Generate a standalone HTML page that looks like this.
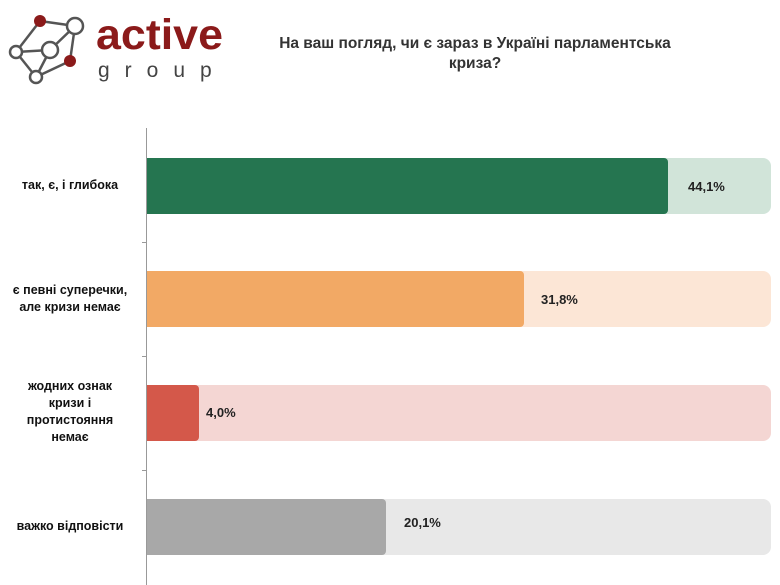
<!DOCTYPE html><html><head><meta charset="utf-8"><style>
body{margin:0;width:780px;height:585px;background:#fff;position:relative;overflow:hidden;font-family:"Liberation Sans",sans-serif}
.a{position:absolute}
.lab{position:absolute;left:0;width:140px;text-align:center;font-size:12.5px;font-weight:bold;color:#111;line-height:17px}
.bg{position:absolute;left:147px;width:624px;height:56px;border-radius:0 8px 8px 0}
.fg{position:absolute;left:147px;height:56px;border-radius:0 4px 4px 0}
.v{position:absolute;font-size:13px;font-weight:bold;color:#222}
</style></head><body>
<svg class="a" style="left:0;top:0" width="240" height="90">
<g stroke="#555" stroke-width="2.5" fill="none">
<line x1="40" y1="21" x2="75" y2="26"/><line x1="40" y1="21" x2="16" y2="52"/><line x1="75" y1="26" x2="50" y2="50"/><line x1="75" y1="26" x2="70" y2="61"/><line x1="16" y1="52" x2="36" y2="77"/><line x1="50" y1="50" x2="16" y2="52"/><line x1="50" y1="50" x2="36" y2="77"/><line x1="70" y1="61" x2="36" y2="77"/>
</g>
<circle cx="40" cy="21" r="6" fill="#8b1a1a"/><circle cx="75" cy="26" r="8" fill="#fff" stroke="#555" stroke-width="2.5"/>
<circle cx="16" cy="52" r="6" fill="#fff" stroke="#555" stroke-width="2.5"/><circle cx="50" cy="50" r="8" fill="#fff" stroke="#555" stroke-width="2.5"/>
<circle cx="70" cy="61" r="6" fill="#8b1a1a"/><circle cx="36" cy="77" r="6" fill="#fff" stroke="#555" stroke-width="2.5"/>
<text x="96" y="49" font-family="Liberation Sans" font-weight="bold" font-size="43" fill="#8b1a1a" textLength="127" lengthAdjust="spacingAndGlyphs">active</text>
<text x="98" y="77" font-family="Liberation Sans" font-size="21" fill="#444" letter-spacing="15">group</text>
</svg>
<div class="a" style="left:255px;top:34px;width:440px;text-align:center;font-size:15.5px;font-weight:bold;color:#333;line-height:20px">На ваш погляд, чи є зараз в Україні парламентська криза?</div>
<div class="a" style="left:146px;top:128px;width:1px;height:457px;background:#999"></div>
<div class="a" style="left:142px;top:242px;width:5px;height:1px;background:#999"></div>
<div class="a" style="left:142px;top:356px;width:5px;height:1px;background:#999"></div>
<div class="a" style="left:142px;top:470px;width:5px;height:1px;background:#999"></div>

<div class="bg" style="top:158px;background:#d1e4d9"></div><div class="fg" style="top:158px;width:521px;background:#257550"></div>
<div class="v" style="left:688px;top:179px">44,1%</div>
<div class="lab" style="top:177px">так, є, і глибока</div>

<div class="bg" style="top:271px;background:#fce6d6"></div><div class="fg" style="top:271px;width:377px;background:#f2a965"></div>
<div class="v" style="left:541px;top:292px">31,8%</div>
<div class="lab" style="top:282px">є певні суперечки,<br>але кризи немає</div>

<div class="bg" style="top:385px;background:#f4d6d3"></div><div class="fg" style="top:385px;width:52px;background:#d4584a"></div>
<div class="v" style="left:206px;top:405px">4,0%</div>
<div class="lab" style="top:378px">жодних ознак<br>кризи і<br>протистояння<br>немає</div>

<div class="bg" style="top:499px;background:#e8e8e8"></div><div class="fg" style="top:499px;width:239px;background:#a8a8a8"></div>
<div class="v" style="left:404px;top:515px">20,1%</div>
<div class="lab" style="top:518px">важко відповісти</div>
</body></html>
